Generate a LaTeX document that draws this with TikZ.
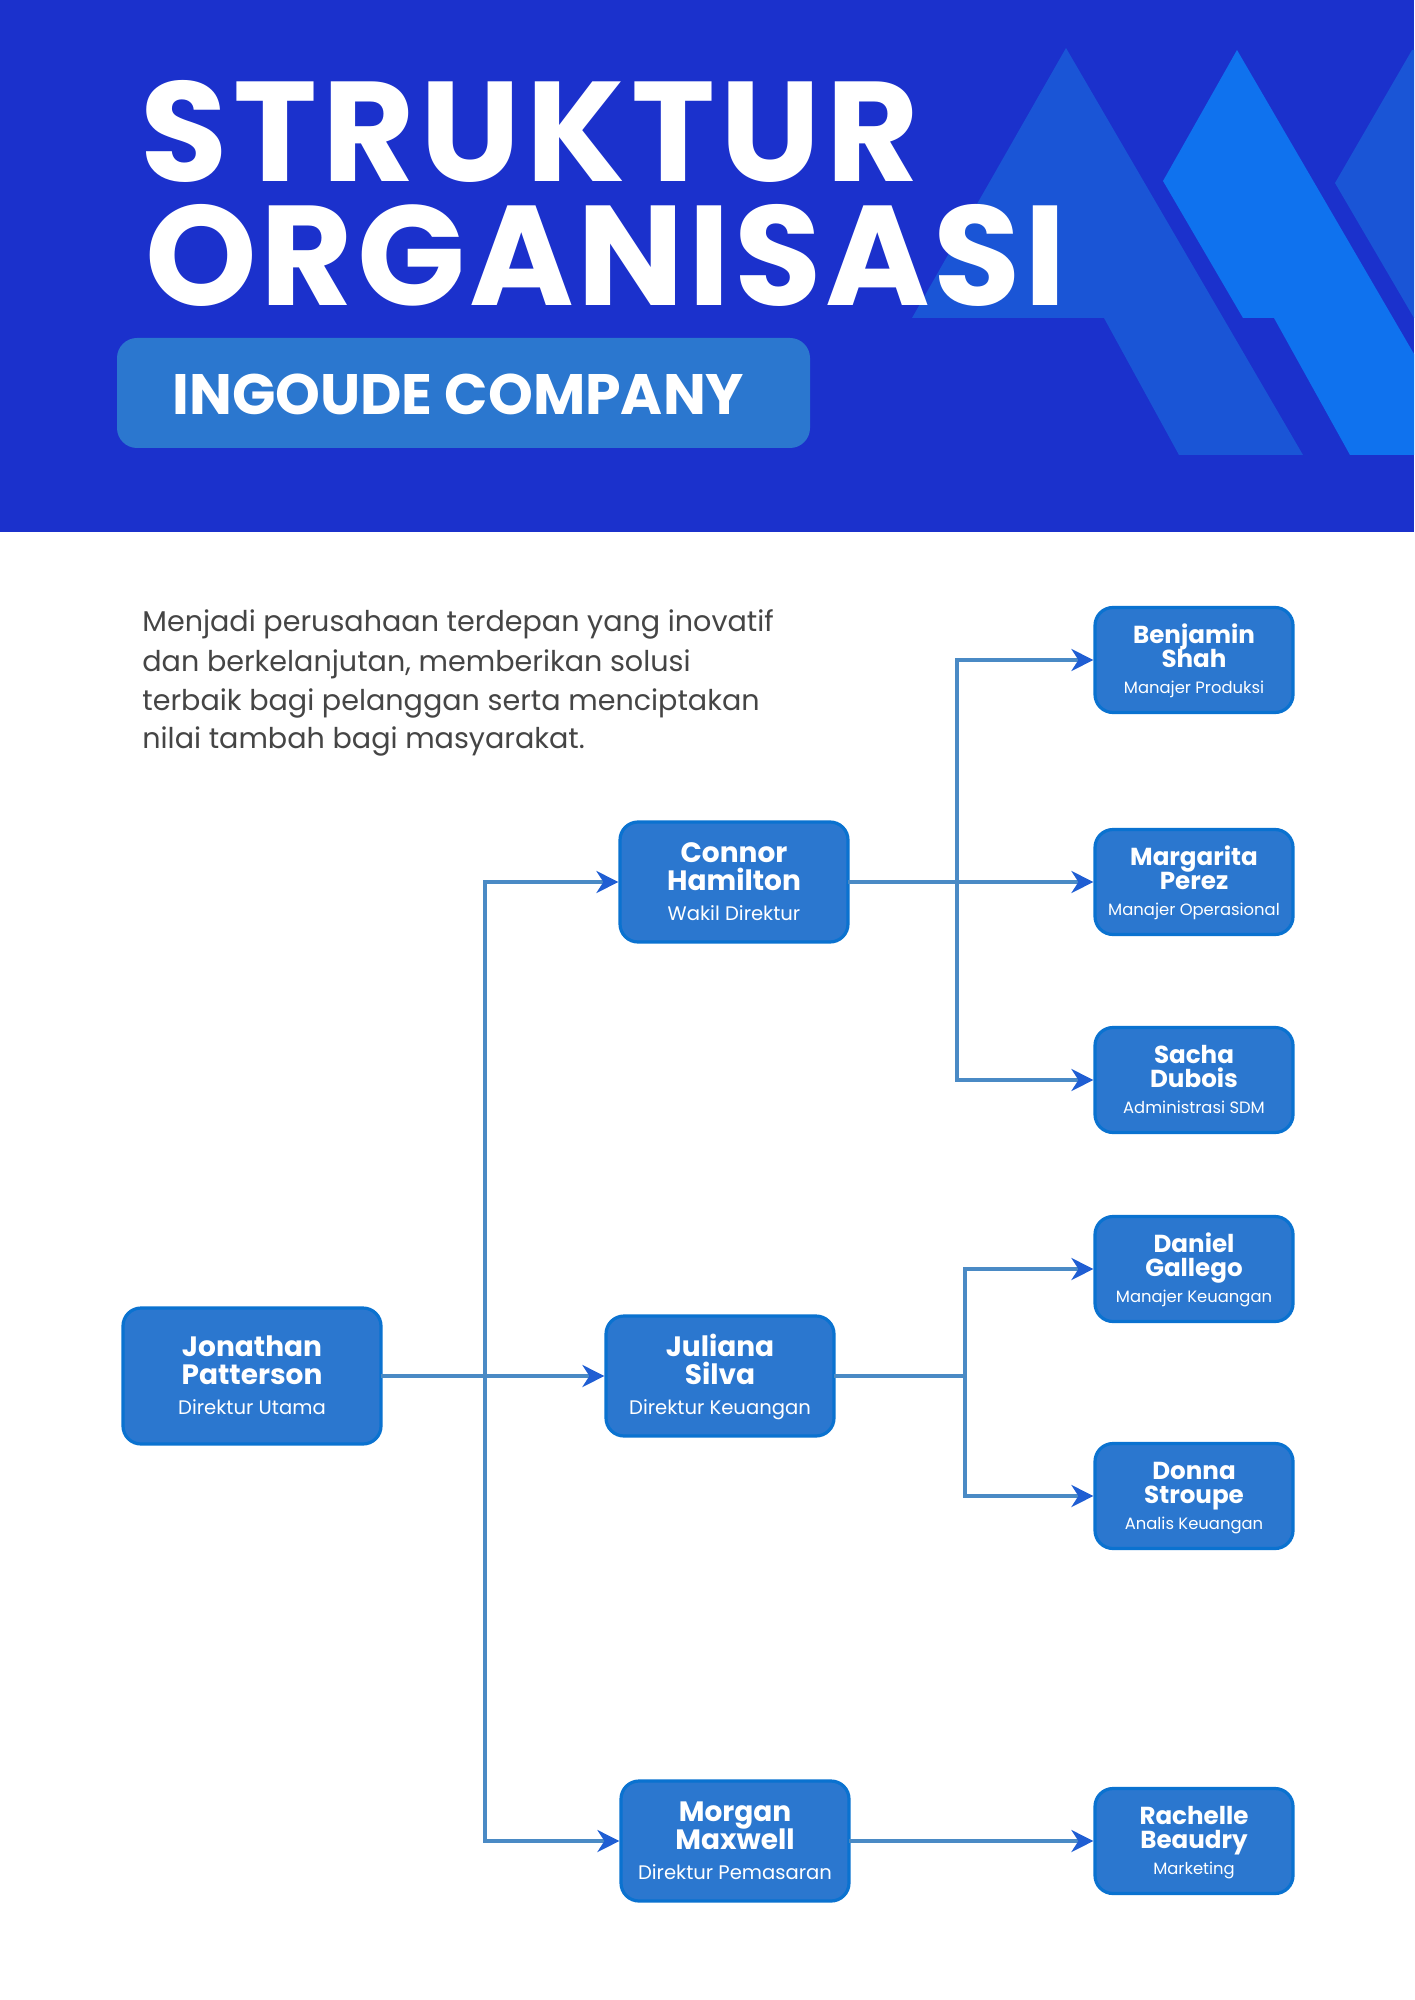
\documentclass[tikz,border=0pt]{standalone}
\usepackage{fontspec}
\setmainfont{Poppins}
\usetikzlibrary{arrows.meta}
\definecolor{hdr}{HTML}{1B31CC}
\definecolor{shA}{HTML}{1A55D6}
\definecolor{shB}{HTML}{0F72EE}
\definecolor{boxc}{HTML}{2B77CF}
\definecolor{bordc}{HTML}{0A72D0}
\definecolor{linec}{HTML}{4A8AC5}
\definecolor{arrc}{HTML}{1F5ED3}
\definecolor{parac}{HTML}{454545}
\tikzset{
  card/.style={rectangle, rounded corners=9pt, fill=boxc, draw=bordc, line width=1.6pt, inner sep=0pt},
  bigcard/.style={card, minimum width=114pt, minimum height=60pt},
  smallcard/.style={card, minimum width=99pt, minimum height=52.5pt},
  bigname/.style={text=white, font=\bfseries\fontsize{14}{14}\selectfont, inner sep=0pt, anchor=base},
  bigrole/.style={text=white, font=\fontsize{9.8}{10}\selectfont, inner sep=0pt, anchor=base},
  smallname/.style={text=white, font=\bfseries\fontsize{12.3}{13}\selectfont, inner sep=0pt, anchor=base},
  smallrole/.style={text=white, font=\fontsize{8.2}{9}\selectfont, inner sep=0pt, anchor=base},
  conn/.style={draw=linec, line width=1.7pt, line cap=rect},
  arr/.style={conn, -{Stealth[length=11pt,width=11pt,inset=3.5pt,color=arrc]}},
  para/.style={text=parac, font=\fontsize{14.3}{19}\selectfont, inner sep=0pt, anchor=base west},
  title/.style={text=white, inner sep=0pt, anchor=base west, text height=50pt, text depth=0pt},
}
% #1 name, #2 x, #3 y, #4 first, #5 second, #6 role
\newcommand\bigperson[6]{%
  \node[bigcard] (#1) at (#2,#3) {};
  \node[bigname] (#1-a) at ({#2},{#3-20}) {#4};
  \node[bigname] (#1-b) at ({#2},{#3+8}) {#5};
  \node[bigrole] (#1-c) at ({#2},{#3+38}) {#6};
}
\newcommand\smallperson[6]{%
  \node[smallcard] (#1) at (#2,#3) {};
  \node[smallname] (#1-a) at ({#2},{#3-17}) {#4};
  \node[smallname] (#1-b) at ({#2},{#3+7}) {#5};
  \node[smallrole] (#1-c) at ({#2},{#3+33}) {#6};
}
\begin{document}
\begin{tikzpicture}[x=0.5pt,y=-0.5pt]
\useasboundingbox (0,0) rectangle (1414,2000);
\fill[white] (0,0) rectangle (1414,2000);
% header
\fill[hdr] (0,0) rectangle (1414,532);
\fill[shA] (1066,48) -- (912,318) -- (1104,318) -- (1179,455) -- (1303,455) -- cycle;
\fill[shB] (1237,50) -- (1163,181) -- (1243,318) -- (1274,318) -- (1350,455) -- (1414,455) -- (1414,354) -- cycle;
\fill[shA] (1412,50) -- (1335,183) -- (1414,318) -- (1414,50) -- cycle;
\node[title, font=\bfseries\fontsize{71}{60}\selectfont\addfontfeature{LetterSpace=3.9}] (t1) at (140,182) {STRUKTUR};
\node[title, font=\bfseries\fontsize{71}{60}\selectfont\addfontfeature{LetterSpace=2.7}] (t2) at (145,306) {ORGANISASI};
\node[rectangle, rounded corners=10pt, fill=boxc, minimum width=346.5pt, minimum height=55pt, inner sep=0pt] (cbox) at (463.5,393) {};
\node[text=white, font=\bfseries\fontsize{28.5}{30}\selectfont, inner sep=0pt, anchor=base west] (ctext) at (172,415) {INGOUDE COMPANY};
% paragraph
\node[para] (p1) at (142,631) {Menjadi perusahaan terdepan yang inovatif};
\node[para] (p2) at (142,671) {dan berkelanjutan, memberikan solusi};
\node[para] (p3) at (142,710) {terbaik bagi pelanggan serta menciptakan};
\node[para] (p4) at (142,748) {nilai tambah bagi masyarakat.};
% people
\node[card, minimum width=129pt, minimum height=68pt] (jon) at (252,1376) {};
\node[bigname] (jon-a) at (252,1356) {Jonathan};
\node[bigname] (jon-b) at (252,1384) {Patterson};
\node[bigrole] (jon-c) at (252,1414) {Direktur Utama};
\bigperson{con}{734}{882}{Connor}{Hamilton}{Wakil Direktur}
\bigperson{jul}{720}{1376}{Juliana}{Silva}{Direktur Keuangan}
\bigperson{mor}{735}{1841}{Morgan}{Maxwell}{Direktur Pemasaran}
\smallperson{ben}{1194}{660}{Benjamin}{Shah}{Manajer Produksi}
\smallperson{mar}{1194}{882}{Margarita}{Perez}{Manajer Operasional}
\smallperson{sac}{1194}{1080}{Sacha}{Dubois}{Administrasi SDM}
\smallperson{dan}{1194}{1269}{Daniel}{Gallego}{Manajer Keuangan}
\smallperson{don}{1194}{1496}{Donna}{Stroupe}{Analis Keuangan}
\smallperson{rac}{1194}{1841}{Rachelle}{Beaudry}{Marketing}
% connectors
\coordinate (k1) at (485,0);
\coordinate (k2) at (957,0);
\coordinate (k3) at (965,0);
\draw[arr] (jon.east) -- (jul.west);
\draw[arr] (k1 |- mor.west) -- (k1 |- con.west) -- (con.west);
\draw[arr] (k1 |- mor.west) -- (mor.west);
\draw[arr] (con.east) -- (mar.west);
\draw[arr] (k2 |- sac.west) -- (k2 |- ben.west) -- (ben.west);
\draw[arr] (k2 |- sac.west) -- (sac.west);
\draw[conn] (jul.east) -- (k3 |- jul.east);
\draw[arr] (k3 |- don.west) -- (k3 |- dan.west) -- (dan.west);
\draw[arr] (k3 |- don.west) -- (don.west);
\draw[arr] (mor.east) -- (rac.west);
\end{tikzpicture}
\end{document}
